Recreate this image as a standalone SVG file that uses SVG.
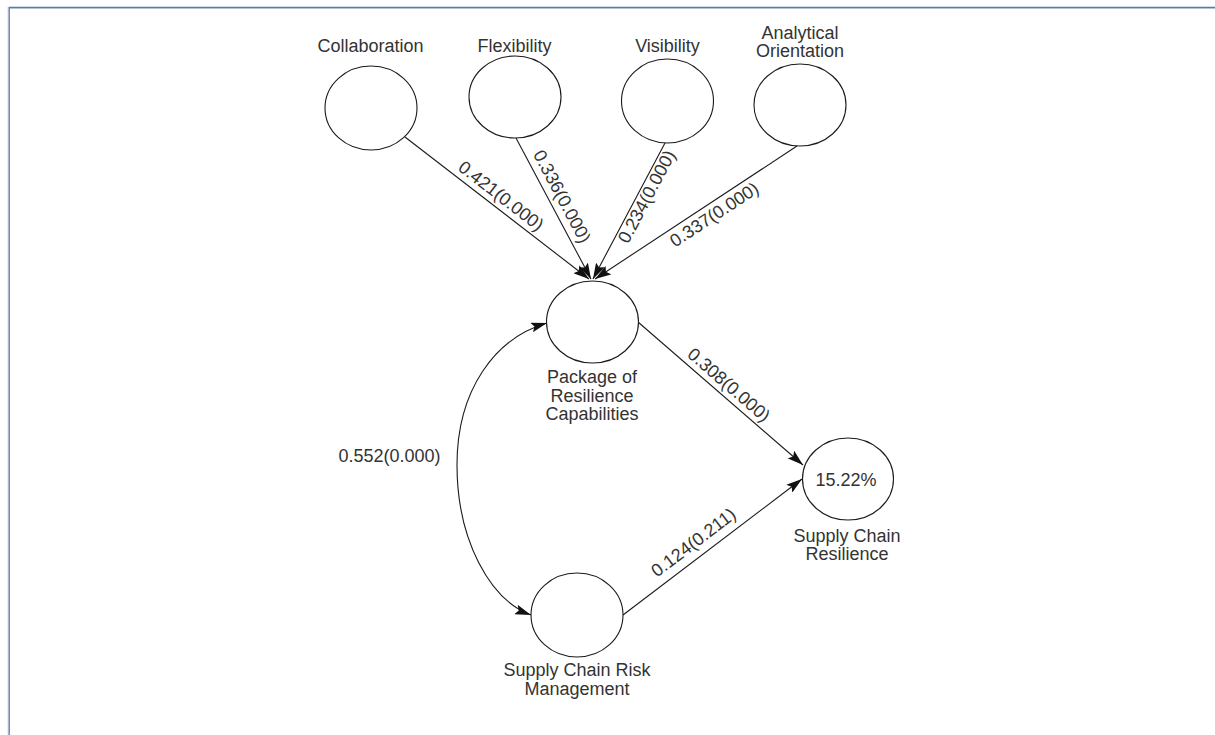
<svg xmlns="http://www.w3.org/2000/svg" width="1215" height="735" viewBox="0 0 1215 735">
<style>
.node{fill:#fff;stroke:#1a1a1a;stroke-width:1.1}
.lbl{font-family:"Liberation Sans",Arial,sans-serif;font-size:18px;fill:#333;text-anchor:middle}
.conn{fill:none;stroke:#1a1a1a;stroke-width:1.1}
</style>
<defs>
<marker id="ah" viewBox="0 0 16 10" markerWidth="16" markerHeight="10" refX="16" refY="5" orient="auto-start-reverse" markerUnits="userSpaceOnUse">
<path d="M0,0 L16,5 L0,10 L3,5 z" fill="#111"/>
</marker>
</defs>
<rect x="0" y="0" width="1215" height="735" fill="#fff"/>
<g id="frame">
<line x1="9" y1="8.5" x2="1215" y2="8.5" stroke="#d5dce6" stroke-width="1"/>
<line x1="8" y1="7" x2="8" y2="735" stroke="#d5dce6" stroke-width="1"/>
<line x1="9" y1="7.5" x2="1215" y2="7.5" stroke="#5a7aae" stroke-width="1.3"/>
<line x1="9.2" y1="7" x2="9.2" y2="735" stroke="#5a7aae" stroke-width="1.3"/>
</g>
<g id="connectors">
<line class="conn" x1="405" y1="137" x2="589" y2="279" marker-end="url(#ah)"/>
<line class="conn" x1="516" y1="138" x2="591" y2="279" marker-end="url(#ah)"/>
<line class="conn" x1="665" y1="143" x2="593" y2="279" marker-end="url(#ah)"/>
<line class="conn" x1="797" y1="146" x2="595" y2="279" marker-end="url(#ah)"/>
<line class="conn" x1="638" y1="322" x2="803" y2="465" marker-end="url(#ah)"/>
<line class="conn" x1="623" y1="615" x2="802" y2="479" marker-end="url(#ah)"/>
<path class="conn" d="M547,323 C495,338 457,390 457,465 C457,540 490,600 531,615" marker-start="url(#ah)" marker-end="url(#ah)"/>
<text class="lbl" transform="translate(493.7,205.4) rotate(37.7)" y="-6">0.421(0.000)</text>
<text class="lbl" transform="translate(550.5,202.7) rotate(62)" y="-7">0.336(0.000)</text>
<text class="lbl" transform="translate(638.8,192.5) rotate(-62)" y="15">0.234(0.000)</text>
<text class="lbl" transform="translate(707.7,204.7) rotate(-33.4)" y="18">0.337(0.000)</text>
<text class="lbl" transform="translate(721,394) rotate(40.9)" y="-6">0.308(0.000)</text>
<text class="lbl" transform="translate(702.6,554.5) rotate(-37.2)" y="-9">0.124(0.211)</text>
<text class="lbl" x="389.5" y="462">0.552(0.000)</text>
</g>
<g id="collaboration">
<ellipse class="node" cx="371" cy="108" rx="46" ry="42"/>
<text class="lbl" x="370.5" y="52">Collaboration</text>
</g>
<g id="flexibility">
<ellipse class="node" cx="515" cy="97" rx="46" ry="41"/>
<text class="lbl" x="514.5" y="52">Flexibility</text>
</g>
<g id="visibility">
<ellipse class="node" cx="667.5" cy="101" rx="46" ry="42"/>
<text class="lbl" x="667.5" y="52">Visibility</text>
</g>
<g id="analytical">
<ellipse class="node" cx="800" cy="105" rx="46" ry="41"/>
<text class="lbl" x="800" y="38.5">Analytical</text>
<text class="lbl" x="800" y="57">Orientation</text>
</g>
<g id="package">
<ellipse class="node" cx="592.5" cy="322" rx="46" ry="41"/>
<text class="lbl" x="592" y="383">Package of</text>
<text class="lbl" x="592" y="401.5">Resilience</text>
<text class="lbl" x="592" y="420">Capabilities</text>
</g>
<g id="resilience">
<ellipse class="node" cx="848" cy="479" rx="45.5" ry="41"/>
<text class="lbl" x="846" y="486">15.22%</text>
<text class="lbl" x="847" y="542">Supply Chain</text>
<text class="lbl" x="847" y="560">Resilience</text>
</g>
<g id="risk">
<ellipse class="node" cx="577" cy="615" rx="46" ry="42"/>
<text class="lbl" x="577" y="676">Supply Chain Risk</text>
<text class="lbl" x="577" y="695">Management</text>
</g>
</svg>
